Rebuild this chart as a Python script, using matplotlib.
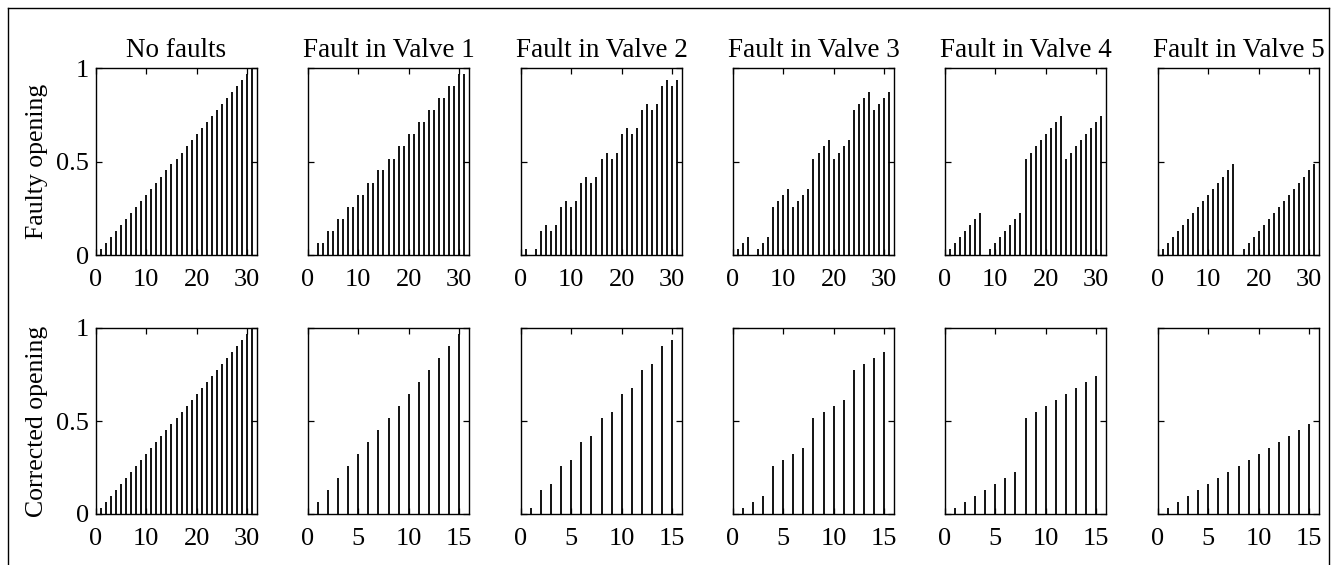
import matplotlib
matplotlib.use("Agg")
import matplotlib.pyplot as plt
from matplotlib.lines import Line2D

plt.rcParams["font.family"] = ["Liberation Serif", "DejaVu Serif"]

titles = ["No faults", "Fault in Valve 1", "Fault in Valve 2",
          "Fault in Valve 3", "Fault in Valve 4", "Fault in Valve 5"]
row_labels = ["Faulty opening", "Corrected opening"]

# Opening obtained for each of the 32 command codes (top row)
faulty_none = [0, .032, .065, .097, .129, .161, .194, .226, .258, .290, .323, .355,
               .387, .419, .452, .484, .516, .548, .581, .613, .645, .677, .710, .742,
               .774, .806, .839, .871, .903, .935, .968, 1.0]
faulty_v1 = [0, 0, .065, .065, .129, .129, .194, .194, .258, .258, .323, .323,
             .387, .387, .452, .452, .516, .516, .581, .581, .645, .645, .710, .710,
             .774, .774, .839, .839, .903, .903, .968, .968]
faulty_v2 = [0, .032, 0, .032, .129, .161, .129, .161, .258, .290, .258, .290,
             .387, .419, .387, .419, .516, .548, .516, .548, .645, .677, .645, .677,
             .774, .806, .774, .806, .903, .935, .903, .935]
faulty_v3 = [0, .032, .065, .097, 0, .032, .065, .097, .258, .290, .323, .355,
             .258, .290, .323, .355, .516, .548, .581, .613, .516, .548, .581, .613,
             .774, .806, .839, .871, .774, .806, .839, .871]
faulty_v4 = [0, .032, .065, .097, .129, .161, .194, .226, 0, .032, .065, .097,
             .129, .161, .194, .226, .516, .548, .581, .613, .645, .677, .710, .742,
             .516, .548, .581, .613, .645, .677, .710, .742]
faulty_v5 = [0, .032, .065, .097, .129, .161, .194, .226, .258, .290, .323, .355,
             .387, .419, .452, .484, 0, .032, .065, .097, .129, .161, .194, .226,
             .258, .290, .323, .355, .387, .419, .452, .484]

# Opening after re-mapping the commands onto the healthy valves (bottom row)
corrected_none = faulty_none
corrected_v1 = [0, .065, .129, .194, .258, .323, .387, .452,
                .516, .581, .645, .710, .774, .839, .903, .968]
corrected_v2 = [0, .032, .129, .161, .258, .290, .387, .419,
                .516, .548, .645, .677, .774, .806, .903, .935]
corrected_v3 = [0, .032, .065, .097, .258, .290, .323, .355,
                .516, .548, .581, .613, .774, .806, .839, .871]
corrected_v4 = [0, .032, .065, .097, .129, .161, .194, .226,
                .516, .548, .581, .613, .645, .677, .710, .742]
corrected_v5 = [0, .032, .065, .097, .129, .161, .194, .226,
                .258, .290, .323, .355, .387, .419, .452, .484]

rows = [
    [faulty_none, faulty_v1, faulty_v2, faulty_v3, faulty_v4, faulty_v5],
    [corrected_none, corrected_v1, corrected_v2, corrected_v3, corrected_v4, corrected_v5],
]

W, H = 1338, 565
fig = plt.figure(figsize=(W / 100, H / 100), dpi=100)

lefts = [96, 308, 521, 733, 945, 1158]
axw = 161
row_box = [(68, 255), (328, 514)]  # (top, bottom) in pixels

for r, series_row in enumerate(rows):
    top, bottom = row_box[r]
    for c, vals in enumerate(series_row):
        ax = fig.add_axes([lefts[c] / W, 1 - bottom / H, axw / W, (bottom - top) / H])
        n = len(vals)
        xs = list(range(n))
        ax.vlines(xs, 0, vals, colors="k", linewidth=1.3)
        ax.set_xlim(0, n)
        ax.set_ylim(0, 1)
        ax.set_yticks([0, 0.5, 1])
        if n == 32:
            ax.set_xticks([0, 10, 20, 30])
        else:
            ax.set_xticks([0, 5, 10, 15])
        ax.tick_params(direction="in", length=4, width=0.9, top=True, right=True,
                       labelsize=19)
        ax.tick_params(axis="x", pad=10)
        ax.tick_params(axis="y", pad=5)
        ax.set_yticklabels(["0", "0.5", "1"] if c == 0 else [])
        for s in ax.spines.values():
            s.set_linewidth(1.0)
        if r == 0:
            ax.set_title(titles[c], fontsize=19.5, pad=8)
        if c == 0:
            ax.set_ylabel(row_labels[r], fontsize=18.5, labelpad=6)

# thin frame around the panel
bx0, by0, bx1 = 8 / W, 1 - 8 / H, 1329 / W
fig.add_artist(Line2D([bx0, bx0], [0, by0], color="k", lw=1.0, transform=fig.transFigure))
fig.add_artist(Line2D([bx0, bx1], [by0, by0], color="k", lw=1.0, transform=fig.transFigure))
fig.add_artist(Line2D([bx1, bx1], [0, by0], color="k", lw=1.0, transform=fig.transFigure))

fig.savefig("out.png", dpi=100)
